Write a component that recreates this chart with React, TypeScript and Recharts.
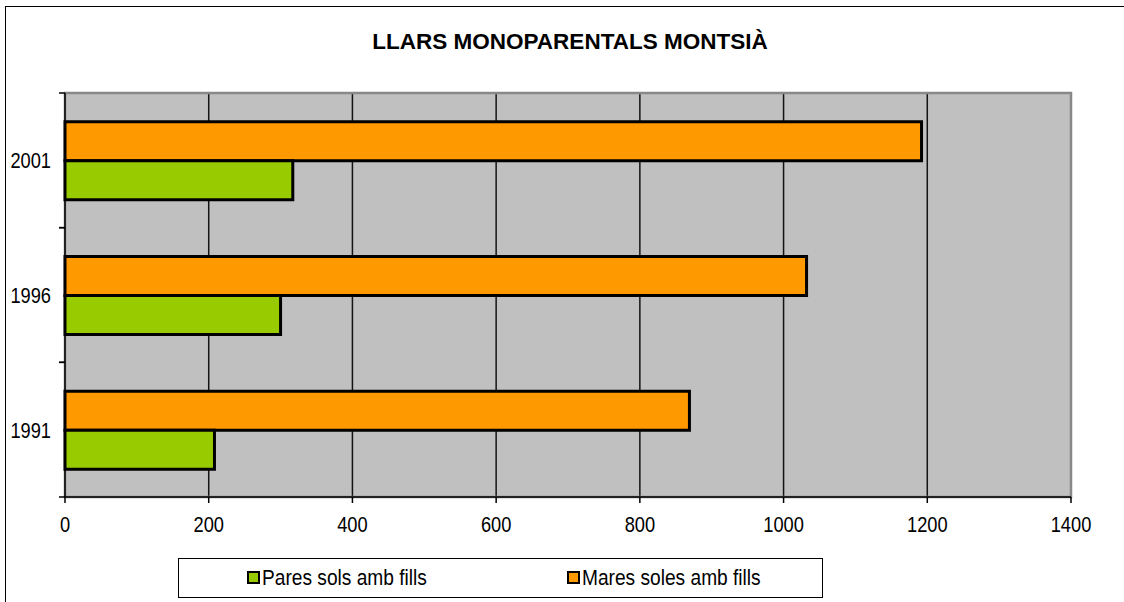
import { Bar, BarChart, CartesianGrid, ReferenceArea, XAxis, YAxis } from "recharts"

const years = ["2001", "1996", "1991"]
const paresValues = [317, 300, 208]
const maresValues = [1192, 1032, 869]
const xTicks = [0, 200, 400, 600, 800, 1000, 1200, 1400]

const series = [
    { key: "pares", name: "Pares sols amb fills", color: "#99CC00", left: 68 },
    { key: "mares", name: "Mares soles amb fills", color: "#FF9900", left: 388 },
]

const data = years.map((year, i) => ({ year, pares: paresValues[i], mares: maresValues[i] }))

const W = 1124
const H = 602
const margin = { top: 93, right: 53, bottom: 65, left: 8 }
const xAxisHeight = 40
const tickSize = 6
const tickMargin = 8
const font = "'Liberation Sans', Arial, sans-serif"
const squeeze = 0.83 // the original uses a narrow face
const band = (H - margin.top - margin.bottom - xAxisHeight) / years.length

function NarrowText({ x, y, dy, anchor, children }: any) {
    return (
        <text
            transform={`translate(${x},${y}) scale(${squeeze},1)`}
            dy={dy}
            textAnchor={anchor}
            fill="#000"
            fontSize={22}
            fontFamily={font}
        >
            {children}
        </text>
    )
}

function YearTick(props: any) {
    const { x, y, payload } = props
    const axisX = x + tickSize + tickMargin
    return (
        <g>
            <line x1={axisX - tickSize} x2={axisX} y1={y - band / 2} y2={y - band / 2} stroke="#000" strokeWidth={1.5} />
            <line x1={axisX - tickSize} x2={axisX} y1={y + band / 2} y2={y + band / 2} stroke="#000" strokeWidth={1.5} />
            <NarrowText x={x} y={y} dy="0.36em" anchor="end">
                {payload.value}
            </NarrowText>
        </g>
    )
}

function ValueTick(props: any) {
    const { x, y, payload } = props
    return (
        <NarrowText x={x} y={y} dy="0.71em" anchor="middle">
            {payload.value}
        </NarrowText>
    )
}

export default function App() {
    return (
        <div style={{ position: "absolute", left: 0, top: 0, width: W, height: H, overflow: "hidden", background: "#fff" }}>
            <div style={{ position: "absolute", left: 5, top: 6, width: 1140, height: 620, border: "1.5px solid #000" }} />
            <div
                style={{
                    position: "absolute",
                    top: 29,
                    left: 0,
                    width: 1140,
                    textAlign: "center",
                    fontFamily: font,
                    fontWeight: "bold",
                    fontSize: 22.5,
                    color: "#000",
                }}
            >
                LLARS MONOPARENTALS MONTSIÀ
            </div>
            <div style={{ position: "absolute", left: 0, top: 0 }}>
                <BarChart
                    width={W}
                    height={H}
                    data={data}
                    layout="vertical"
                    margin={margin}
                    barCategoryGap="21.4%"
                    barGap={0}
                >
                    <CartesianGrid horizontal={false} fill="#C0C0C0" stroke="#000" strokeWidth={1.5} strokeOpacity={0.9} />
                    <ReferenceArea x1={0} x2={1400} fill="none" stroke="#888" strokeWidth={2.5} />
                    <XAxis
                        type="number"
                        domain={[0, 1400]}
                        ticks={xTicks}
                        height={xAxisHeight}
                        tickSize={tickSize}
                        tickMargin={13}
                        stroke="#000"
                        strokeWidth={1.5}
                        tick={<ValueTick />}
                    />
                    <YAxis
                        type="category"
                        dataKey="year"
                        width={57}
                        tickSize={tickSize}
                        tickMargin={tickMargin}
                        tickLine={false}
                        stroke="#000"
                        strokeWidth={1.5}
                        tick={<YearTick />}
                    />
                    <Bar dataKey="mares" name="Mares soles amb fills" fill="#FF9900" stroke="#000" strokeWidth={3} isAnimationActive={false} />
                    <Bar dataKey="pares" name="Pares sols amb fills" fill="#99CC00" stroke="#000" strokeWidth={3} isAnimationActive={false} />
                </BarChart>
            </div>
            <div
                style={{
                    position: "absolute",
                    left: 178,
                    top: 558,
                    width: 645,
                    height: 40,
                    boxSizing: "border-box",
                    border: "1.5px solid #000",
                    fontFamily: font,
                    fontSize: 22,
                    color: "#000",
                }}
            >
                {series.map((s) => (
                    <div key={s.key} style={{ position: "absolute", left: s.left, top: 0, height: 37, display: "flex", alignItems: "center" }}>
                        <span
                            style={{
                                display: "inline-block",
                                width: 9,
                                height: 9,
                                background: s.color,
                                border: "2.5px solid #000",
                                marginRight: 2,
                            }}
                        />
                        <span style={{ display: "inline-block", whiteSpace: "nowrap", transform: "scaleX(0.87)", transformOrigin: "left center" }}>
                            {s.name}
                        </span>
                    </div>
                ))}
            </div>
        </div>
    )
}
